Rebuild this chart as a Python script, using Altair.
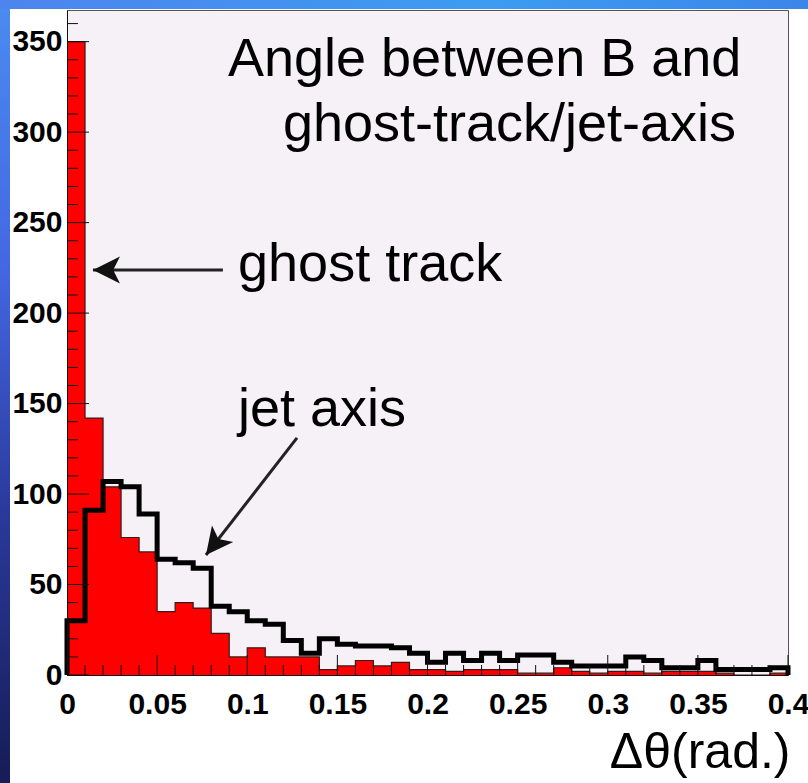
import altair as alt
import pandas as pd

# ---- data ----
bin_width = 0.01
bin_lo = [round(i * bin_width, 2) for i in range(40)]

ghost_track = [350, 142, 104, 76, 68, 35, 40, 37, 23, 10,
               15, 10, 10, 10, 3, 5, 8, 5, 7, 3,
               3, 2, 3, 3, 3, 1, 1, 4, 2, 1,
               2, 2, 1, 2, 2, 2, 1, 0, 0, 1]

jet_axis = [30, 91, 107, 104, 89, 64, 62, 59, 38, 35,
            30, 28, 19, 12, 20, 17, 16, 16, 15, 12,
            7, 12, 8, 12, 8, 11, 11, 7, 5, 5,
            5, 10, 8, 4, 4, 8, 3, 3, 3, 4]

y_major = [0, 50, 100, 150, 200, 250, 300, 350]
y_minor = [v for v in range(10, 370, 10) if v % 50]
x_major = [0, 0.05, 0.1, 0.15, 0.2, 0.25, 0.3, 0.35, 0.4]
x_minor = [round(i * 0.01, 2) for i in range(1, 40) if i % 5]

note_text = ["Angle between B and", "ghost-track/jet-axis", "ghost track", "jet axis"]
note_x = [0.0893, 0.1198, 0.0949, 0.0949]
note_y = [331.0, 295.1, 217.7, 137.6]

arrow_tail_x = [0.0865, 0.1276]
arrow_tail_y = [223.8, 131.0]
arrow_tip_x = [0.0144, 0.0771]
arrow_tip_y = [223.8, 66.3]
arrow_angle = [270, 218]

# ---- tables ----
ghost_df = pd.DataFrame({"x": bin_lo + [0.4], "y": ghost_track + [ghost_track[-1]]})
jet_df = pd.DataFrame({
    "x": [0.0] + bin_lo + [0.4, 0.4],
    "y": [0] + jet_axis + [jet_axis[-1], 0],
})
jet_df["i"] = range(len(jet_df))
notes_df = pd.DataFrame({"x": note_x, "y": note_y, "t": note_text})
arrows_df = pd.DataFrame({"x": arrow_tail_x, "y": arrow_tail_y,
                          "x2": arrow_tip_x, "y2": arrow_tip_y, "a": arrow_angle})
ymaj_df = pd.DataFrame({"y": y_major})
ymin_df = pd.DataFrame({"y": y_minor})
xmaj_df = pd.DataFrame({"x": x_major})
xmin_df = pd.DataFrame({"x": x_minor})

W, H = 721, 665
xs = alt.Scale(domain=[0, 0.4], nice=False, zero=False)
ys = alt.Scale(domain=[0, 367.5], nice=False)

FONT = "Liberation Sans"

x_axis = alt.Axis(values=x_major, format=".2~f", ticks=False, tickSize=0,
                  domainColor="#111111", domainWidth=1, grid=False,
                  labelFont=FONT, labelFontWeight="bold", labelFontSize=30,
                  labelColor="black", labelPadding=14, labelFlush=False,
                  labelOverlap=False, title="Δθ(rad.)", titleFont=FONT,
                  titleFontSize=50, titleFontWeight="normal", titleColor="black",
                  titleAlign="right", titleAnchor="end", titleX=723, titleY=92,
                  titleBaseline="alphabetic", zindex=1)
y_axis = alt.Axis(values=y_major, ticks=False, tickSize=0,
                  domainColor="#111111", domainWidth=1, grid=False,
                  labelFont=FONT, labelFontWeight="bold", labelFontSize=30,
                  labelColor="black", labelPadding=5, labelFlush=False,
                  labelOverlap=False, title=None, zindex=1)


def X(f="x:Q"):
    return alt.X(f, scale=xs, axis=x_axis)


def Y(f="y:Q"):
    return alt.Y(f, scale=ys, axis=y_axis)


one = alt.Data(values=[{}])
left_grad = alt.LinearGradient(
    gradient="linear", x1=0, x2=0, y1=0, y2=1,
    stops=[alt.GradientStop(color="#4a8cf0", offset=0),
           alt.GradientStop(color="#4466e2", offset=0.35),
           alt.GradientStop(color="#2a3a9c", offset=0.65),
           alt.GradientStop(color="#161c56", offset=1)])
top_grad = alt.LinearGradient(
    gradient="linear", x1=0, x2=1, y1=0, y2=0,
    stops=[alt.GradientStop(color="#4d84ee", offset=0),
           alt.GradientStop(color="#3c9cf2", offset=0.6),
           alt.GradientStop(color="#3a86ea", offset=1)])

left_strip = alt.Chart(one).mark_rect(color=left_grad).encode(
    x=alt.value(-67), x2=alt.value(-57), y=alt.value(-10), y2=alt.value(773))
top_strip = alt.Chart(one).mark_rect(color=top_grad).encode(
    x=alt.value(-67), x2=alt.value(741), y=alt.value(-10), y2=alt.value(-1))

ghost_layer = alt.Chart(ghost_df).mark_area(
    interpolate="step-after", color="#ff0000", opacity=1,
    line={"color": "#3a1a1a", "strokeWidth": 1.2}
).encode(x=X(), y=Y())

jet_layer = alt.Chart(jet_df).mark_line(
    interpolate="step-after", color="black", strokeWidth=5, strokeJoin="miter"
).encode(x=X(), y=Y(), order="i:Q")

yticks_major = alt.Chart(ymaj_df).mark_rule(color="#111111", strokeWidth=1).encode(
    y=Y(), x=alt.value(0), x2=alt.value(22))
yticks_minor = alt.Chart(ymin_df).mark_rule(color="#111111", strokeWidth=1).encode(
    y=Y(), x=alt.value(0), x2=alt.value(11))
xticks_major = alt.Chart(xmaj_df).mark_rule(color="#111111", strokeWidth=1).encode(
    x=X(), y=alt.value(H), y2=alt.value(H - 20))
xticks_minor = alt.Chart(xmin_df).mark_rule(color="#111111", strokeWidth=1).encode(
    x=X(), y=alt.value(H), y2=alt.value(H - 10))

notes = alt.Chart(notes_df).mark_text(
    align="left", baseline="alphabetic", font=FONT, fontSize=54, color="black"
).encode(x=X(), y=Y(), text="t:N")

arrow_lines = alt.Chart(arrows_df).mark_rule(color="#222222", strokeWidth=3).encode(
    x=X(), y=Y(), x2="x2:Q", y2="y2:Q")

arrow_heads = alt.Chart(arrows_df).mark_point(
    shape="M0,0 L1,2 L0,1.5 L-1,2 Z", filled=True, size=729, opacity=1,
    color="#111111", strokeWidth=0
).encode(x=X("x2:Q"), y=Y("y2:Q"), angle=alt.Angle("a:Q", scale=None))

chart = alt.layer(
    left_strip, top_strip, ghost_layer, jet_layer,
    yticks_major, yticks_minor, xticks_major, xticks_minor,
    arrow_lines, arrow_heads, notes
).properties(
    width=W, height=H,
    padding={"left": 67, "top": 10, "right": 20, "bottom": 108},
    autosize=alt.AutoSizeParams(type="none"),
    background="white",
).configure_view(fill="#f6f1f6", stroke="#555555", strokeWidth=1)

chart.save("out.html", embed_options={"renderer": "svg", "actions": False})
